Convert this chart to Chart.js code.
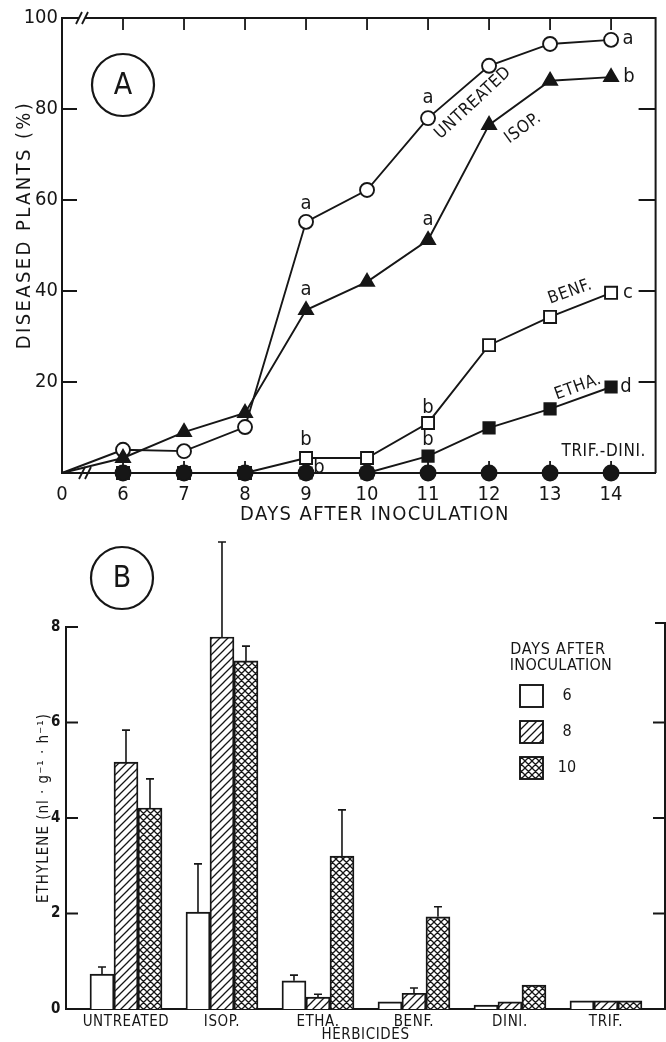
<!DOCTYPE html>
<html>
<head>
<meta charset="utf-8">
<script src="https://cdn.jsdelivr.net/npm/chart.js@4.4.1/dist/chart.umd.min.js"></script>
<style>
  html, body { margin: 0; padding: 0; background: #fff; }
  #chartA { position: absolute; left: 0; top: 0; }
  #chartB { position: absolute; left: 0; top: 530px; }
</style>
</head>
<body>
<canvas id="chartA" width="666" height="530"></canvas>
<canvas id="chartB" width="666" height="512"></canvas>
<script>
// --- panel A : diseased plants (%) vs days after inoculation ---
// day 5 is the origin of the broken axis, labelled "0"
const days = [5, 6, 7, 8, 9, 10, 11, 12, 13, 14];
const untreated = [0, 5.1, 4.8, 10.1, 55.2, 62.2, 78, 89.5, 94.3, 95.2];
const isop = [0, 3.3, 9, 13.2, 35.8, 42, 51.2, 76.5, 86.2, 87];
const benf = [0, 0, 0, 0, 3.3, 3.3, 11, 28.1, 34.3, 39.6];
const etha = [0, 0, 0, 0, 0, 0, 3.7, 9.9, 14.1, 18.9];
const trifDini = [0, 0, 0, 0, 0, 0, 0, 0, 0, 0];
const yTicksA = [20, 40, 60, 80, 100];

// --- panel B : ethylene production per herbicide ---
const herbicides = ['UNTREATED', 'ISOP.', 'ETHA.', 'BENF.', 'DINI.', 'TRIF.'];
const dayGroups = ['6', '8', '10'];
const day6 = [0.73, 2.03, 0.59, 0.15, 0.08, 0.17];
const day8 = [5.17, 7.79, 0.25, 0.33, 0.15, 0.17];
const day10 = [4.21, 7.29, 3.2, 1.93, 0.5, 0.17];
// upper end of the error bars (null = none drawn)
const day6Err = [0.88, 3.04, 0.71, null, null, null];
const day8Err = [5.84, 9.78, 0.31, 0.44, null, null];
const day10Err = [4.82, 7.6, 4.17, 2.14, null, null];

const ink = '#161616';
const fam = '"DejaVu Sans Condensed", "DejaVu Sans", sans-serif';

function txt(ctx, s, x, y, size, spacing, angle) {
  ctx.save();
  ctx.translate(x, y);
  if (angle) ctx.rotate(angle * Math.PI / 180);
  ctx.font = size + 'px ' + fam;
  ctx.letterSpacing = (spacing || 0) + 'px';
  ctx.fillStyle = ink;
  ctx.textAlign = 'center';
  ctx.textBaseline = 'middle';
  ctx.fillText(s, 0, 0);
  ctx.restore();
}

function circleLabel(ctx, s, cx, cy, r) {
  ctx.save();
  ctx.strokeStyle = ink;
  ctx.lineWidth = 2.2;
  ctx.beginPath();
  ctx.arc(cx, cy, r, 0, Math.PI * 2);
  ctx.stroke();
  ctx.restore();
  txt(ctx, s, cx, cy + 1, 30, 0);
}

function lineSet(label, values, style, fill, r) {
  return {
    label: label,
    data: values.map((v, i) => ({ x: days[i], y: v })),
    borderColor: ink,
    borderWidth: 1.9,
    pointStyle: style,
    pointBackgroundColor: fill,
    pointBorderColor: ink,
    pointBorderWidth: 1.9,
    pointRadius: c => c.dataIndex === 0 ? 0 : r,
    tension: 0,
    clip: false
  };
}

// letters of the statistical groups, [text, day, value, dx, dy]
const lettersA = [
  ['a', 9, 55.2, 0, -18], ['a', 9, 35.8, 0, -20],
  ['a', 11, 78, 0, -20], ['a', 11, 51.2, 0, -20],
  ['b', 9, 3.3, 0, -18], ['b', 9, 0, 13, -5],
  ['b', 11, 11, 0, -15], ['b', 11, 3.7, 0, -16],
  ['a', 14, 95.2, 17, -1], ['b', 14, 87, 18, 0],
  ['c', 14, 39.6, 17, 0], ['d', 14, 18.9, 15, 0]
];
// curve names, [text, day, value, angle]
const namesA = [
  ['UNTREATED', 11.74, 81.3, -43], ['ISOP.', 12.56, 75.8, -36],
  ['BENF.', 13.33, 39.8, -20], ['ETHA.', 13.46, 18.9, -20],
  ['TRIF.-DINI.', 13.88, 4.6, 0]
];

const panelA = {
  id: 'panelA',
  beforeDatasetsDraw(chart) {
    const { ctx, chartArea: a, scales: { x, y } } = chart;
    ctx.save();
    ctx.strokeStyle = ink;
    ctx.lineWidth = 2;
    ctx.beginPath();
    ctx.moveTo(a.left, a.top); ctx.lineTo(a.right, a.top); ctx.lineTo(a.right, a.bottom);
    ctx.stroke();
    ctx.lineWidth = 1.8;
    ctx.beginPath();
    days.slice(1).forEach(d => {
      const px = x.getPixelForValue(d);
      ctx.moveTo(px, a.top); ctx.lineTo(px, a.top + 12);
      ctx.moveTo(px, a.bottom); ctx.lineTo(px, a.bottom - 12);
    });
    yTicksA.slice(0, 4).forEach(v => {
      const py = y.getPixelForValue(v);
      ctx.moveTo(a.left, py); ctx.lineTo(a.left + 15, py);
      ctx.moveTo(a.right, py); ctx.lineTo(a.right - 17, py);
    });
    ctx.stroke();
    // axis breaks
    [[a.top, 19], [a.bottom, 22]].forEach(([py, off]) => {
      const bx = a.left + off;
      ctx.fillStyle = '#fff';
      ctx.fillRect(bx - 2, py - 2, 6, 4);
      ctx.beginPath();
      ctx.moveTo(bx - 5, py + 6); ctx.lineTo(bx + 1, py - 6);
      ctx.moveTo(bx + 1, py + 6); ctx.lineTo(bx + 7, py - 6);
      ctx.stroke();
    });
    ctx.restore();
  },
  afterDatasetsDraw(chart) {
    const { ctx, scales: { x, y } } = chart;
    lettersA.forEach(([s, d, v, dx, dy]) => {
      txt(ctx, s, x.getPixelForValue(d) + dx, y.getPixelForValue(v) + dy, 20, 0);
    });
    namesA.forEach(([s, d, v, ang]) => {
      txt(ctx, s, x.getPixelForValue(d), y.getPixelForValue(v), 17, 0.6, ang);
    });
    circleLabel(ctx, 'A', 123, 85, 31);
    txt(ctx, 'DAYS AFTER INOCULATION', 375, 515, 20, 1.4);
    txt(ctx, 'DISEASED PLANTS (%)', 25, 225, 20, 2.4, -90);
  }
};

new Chart(document.getElementById('chartA'), {
  type: 'line',
  data: {
    datasets: [
      lineSet('TRIF.-DINI.', trifDini, 'circle', ink, 7.5),
      lineSet('ETHA.', etha, 'rect', ink, 8),
      lineSet('BENF.', benf, 'rect', '#fff', 8.5),
      lineSet('ISOP.', isop, 'triangle', ink, 8),
      lineSet('UNTREATED', untreated, 'circle', '#fff', 7)
    ]
  },
  options: {
    responsive: false,
    animation: false,
    devicePixelRatio: 1,
    layout: { padding: { top: 18, right: 8, left: 0, bottom: 0 } },
    plugins: { legend: { display: false }, tooltip: { enabled: false } },
    scales: {
      x: {
        type: 'linear', min: 5, max: 14.73,
        afterBuildTicks: s => { s.ticks = days.map(v => ({ value: v })); },
        afterFit: s => { s.height = 57; },
        grid: { display: false, drawTicks: false },
        border: { display: true, color: ink, width: 2 },
        ticks: {
          autoSkip: false, maxRotation: 0, padding: 10, color: ink,
          font: { family: fam, size: 20 },
          callback: v => v === 5 ? '0' : String(v)
        }
      },
      y: {
        min: 0, max: 100,
        afterBuildTicks: s => { s.ticks = yTicksA.map(v => ({ value: v })); },
        afterFit: s => { s.width = 62; },
        grid: { display: false, drawTicks: false },
        border: { display: true, color: ink, width: 2 },
        ticks: { padding: 4, color: ink, font: { family: fam, size: 20 } }
      }
    }
  },
  plugins: [panelA]
});

// --- panel B ---
const ctxB = document.getElementById('chartB').getContext('2d');

function hatch(size, cross) {
  const c = document.createElement('canvas');
  c.width = size; c.height = size;
  const g = c.getContext('2d');
  g.fillStyle = '#fff';
  g.fillRect(0, 0, size, size);
  g.strokeStyle = ink;
  g.lineWidth = 1.3;
  g.beginPath();
  g.moveTo(-1, size + 1); g.lineTo(size + 1, -1);
  g.moveTo(-1, 1); g.lineTo(1, -1);
  g.moveTo(size - 1, size + 1); g.lineTo(size + 1, size - 1);
  if (cross) {
    g.moveTo(-1, -1); g.lineTo(size + 1, size + 1);
    g.moveTo(size - 1, -1); g.lineTo(size + 1, 1);
    g.moveTo(-1, size - 1); g.lineTo(1, size + 1);
  }
  g.stroke();
  return ctxB.createPattern(c, 'repeat');
}

const fills = ['#fff', hatch(8, false), hatch(7, true)];
const errs = [day6Err, day8Err, day10Err];

function barSet(label, values, fill) {
  return {
    label: label,
    data: values.map((v, i) => ({ x: i, y: v })),
    backgroundColor: fill,
    borderColor: ink,
    borderWidth: 1.9,
    barThickness: 24
  };
}

const panelB = {
  id: 'panelB',
  beforeDraw(chart) {
    // slightly spaced lettering for the tick labels
    chart.ctx.letterSpacing = '0.6px';
  },
  beforeDatasetsDraw(chart) {
    const { ctx, chartArea: a, scales: { y } } = chart;
    ctx.save();
    ctx.strokeStyle = ink;
    ctx.lineWidth = 2;
    const top = y.getPixelForValue(8) - 4;
    ctx.beginPath();
    ctx.moveTo(a.right - 10, top); ctx.lineTo(a.right, top); ctx.lineTo(a.right, a.bottom);
    ctx.stroke();
    ctx.lineWidth = 1.8;
    ctx.beginPath();
    [2, 4, 6, 8].forEach(v => {
      const py = y.getPixelForValue(v);
      ctx.moveTo(a.left, py); ctx.lineTo(a.left + 12, py);
      if (v < 8) { ctx.moveTo(a.right, py); ctx.lineTo(a.right - 12, py); }
    });
    ctx.stroke();
    ctx.restore();
  },
  afterDatasetsDraw(chart) {
    const { ctx, chartArea: a, scales: { y } } = chart;
    ctx.save();
    ctx.strokeStyle = ink;
    ctx.lineWidth = 1.6;
    errs.forEach((list, d) => {
      const meta = chart.getDatasetMeta(d);
      list.forEach((e, i) => {
        if (e == null) return;
        const bar = meta.data[i];
        const ye = y.getPixelForValue(e);
        ctx.beginPath();
        ctx.moveTo(bar.x, bar.y); ctx.lineTo(bar.x, ye);
        ctx.moveTo(bar.x - 4, ye); ctx.lineTo(bar.x + 4, ye);
        ctx.stroke();
      });
    });
    // legend
    dayGroups.forEach((g, i) => {
      const by = 155 + i * 36;
      ctx.fillStyle = fills[i];
      ctx.fillRect(520, by, 23, 22);
      ctx.lineWidth = 1.9;
      ctx.strokeRect(520, by, 23, 22);
      txt(ctx, g, 567, by + 11, 16, 0);
    });
    ctx.restore();
    txt(ctx, 'DAYS AFTER', 558, 120, 16, 0.8);
    txt(ctx, 'INOCULATION', 561, 136, 16, 0.3);
    circleLabel(ctx, 'B', 122, 48, 31);
    txt(ctx, 'HERBICIDES', (a.left + a.right) / 2, 505, 15, 0.6);
    txt(ctx, 'ETHYLENE (nl · g⁻¹ · h⁻¹)', 44, 278, 15, 1, -90);
  }
};

new Chart(ctxB, {
  type: 'bar',
  data: {
    datasets: [
      barSet(dayGroups[0], day6, fills[0]),
      barSet(dayGroups[1], day8, fills[1]),
      barSet(dayGroups[2], day10, fills[2])
    ]
  },
  options: {
    responsive: false,
    animation: false,
    devicePixelRatio: 1,
    layout: { padding: { top: 97, right: 1, left: 0, bottom: 0 } },
    plugins: { legend: { display: false }, tooltip: { enabled: false } },
    scales: {
      x: {
        type: 'linear', min: -0.625, max: 5.615, offset: false,
        afterBuildTicks: s => { s.ticks = herbicides.map((h, i) => ({ value: i })); },
        afterFit: s => { s.height = 33; },
        grid: { display: false, drawTicks: false },
        border: { display: true, color: ink, width: 2 },
        ticks: {
          autoSkip: false, maxRotation: 0, padding: 4, color: ink,
          font: { family: fam, size: 15 },
          callback: v => herbicides[v] || ''
        }
      },
      y: {
        min: 0, max: 8,
        afterFit: s => { s.width = 66; },
        grid: { display: false, drawTicks: false },
        border: { display: true, color: ink, width: 2 },
        ticks: { stepSize: 2, padding: 5, color: ink, font: { family: fam, size: 15, weight: 'bold' } }
      }
    }
  },
  plugins: [panelB]
});
</script>
</body>
</html>
